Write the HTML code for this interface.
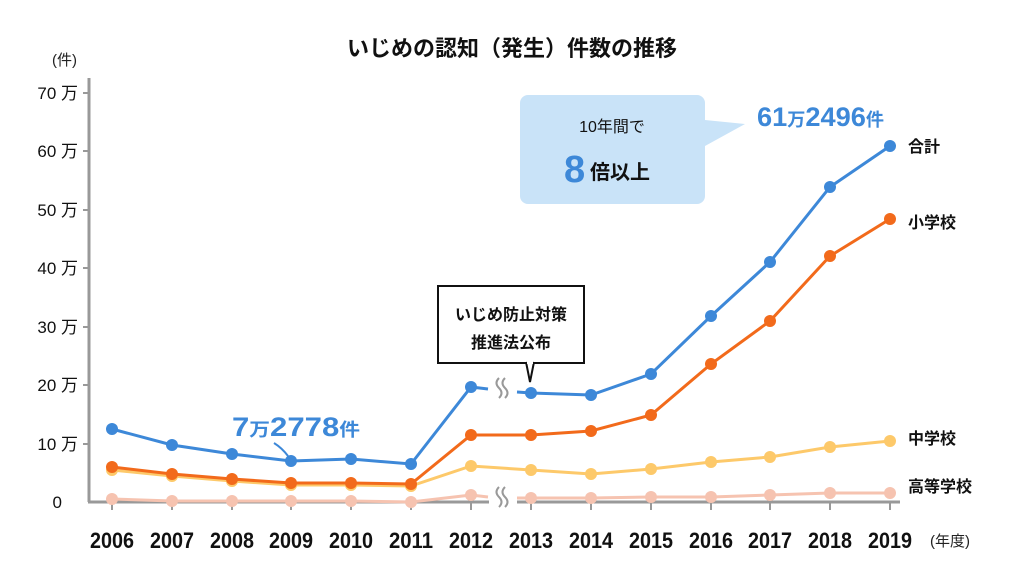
<!DOCTYPE html>
<html><head><meta charset="utf-8"><style>
body{margin:0;background:#fff}
svg{display:block;font-family:"Liberation Sans","Noto Sans CJK JP",sans-serif}
</style></head><body>
<svg width="1024" height="576" viewBox="0 0 1024 576" xmlns="http://www.w3.org/2000/svg">
<text x="512" y="56" text-anchor="middle" font-size="22" font-weight="bold" fill="#111">いじめの認知（発生）件数の推移</text>
<text x="52" y="65" font-size="15" fill="#222">(件)</text>
<g stroke="#999" stroke-width="3" fill="none">
<line x1="89" y1="78" x2="89" y2="502"/>
<line x1="88" y1="502" x2="489" y2="502"/>
<line x1="517" y1="502" x2="900" y2="502"/>
</g>
<g stroke="#999" stroke-width="2">
<line x1="83" y1="93" x2="89" y2="93"/><line x1="83" y1="151" x2="89" y2="151"/><line x1="83" y1="210" x2="89" y2="210"/><line x1="83" y1="268" x2="89" y2="268"/><line x1="83" y1="327" x2="89" y2="327"/><line x1="83" y1="385" x2="89" y2="385"/><line x1="83" y1="444" x2="89" y2="444"/>
<line x1="112" y1="502" x2="112" y2="510"/><line x1="172" y1="502" x2="172" y2="510"/><line x1="232" y1="502" x2="232" y2="510"/><line x1="291" y1="502" x2="291" y2="510"/><line x1="351" y1="502" x2="351" y2="510"/><line x1="411" y1="502" x2="411" y2="510"/><line x1="471" y1="502" x2="471" y2="510"/><line x1="531" y1="502" x2="531" y2="510"/><line x1="591" y1="502" x2="591" y2="510"/><line x1="651" y1="502" x2="651" y2="510"/><line x1="711" y1="502" x2="711" y2="510"/><line x1="770" y1="502" x2="770" y2="510"/><line x1="830" y1="502" x2="830" y2="510"/><line x1="890" y1="502" x2="890" y2="510"/>
</g>
<g font-size="17" fill="#111" text-anchor="end">
<text x="78" y="99">70 万</text><text x="78" y="157">60 万</text><text x="78" y="216">50 万</text><text x="78" y="274">40 万</text><text x="78" y="333">30 万</text><text x="78" y="391">20 万</text><text x="78" y="450">10 万</text><text x="62" y="508">0</text>
</g>
<g font-size="22" fill="#111" text-anchor="middle" font-weight="bold">
<text x="112" y="548" textLength="44" lengthAdjust="spacingAndGlyphs">2006</text><text x="172" y="548" textLength="44" lengthAdjust="spacingAndGlyphs">2007</text><text x="232" y="548" textLength="44" lengthAdjust="spacingAndGlyphs">2008</text><text x="291" y="548" textLength="44" lengthAdjust="spacingAndGlyphs">2009</text><text x="351" y="548" textLength="44" lengthAdjust="spacingAndGlyphs">2010</text><text x="411" y="548" textLength="44" lengthAdjust="spacingAndGlyphs">2011</text><text x="471" y="548" textLength="44" lengthAdjust="spacingAndGlyphs">2012</text><text x="531" y="548" textLength="44" lengthAdjust="spacingAndGlyphs">2013</text><text x="591" y="548" textLength="44" lengthAdjust="spacingAndGlyphs">2014</text><text x="651" y="548" textLength="44" lengthAdjust="spacingAndGlyphs">2015</text><text x="711" y="548" textLength="44" lengthAdjust="spacingAndGlyphs">2016</text><text x="770" y="548" textLength="44" lengthAdjust="spacingAndGlyphs">2017</text><text x="830" y="548" textLength="44" lengthAdjust="spacingAndGlyphs">2018</text><text x="890" y="548" textLength="44" lengthAdjust="spacingAndGlyphs">2019</text>
</g>
<text x="930" y="546" font-size="15" fill="#222">(年度)</text>
<g stroke="#f6c3b0" stroke-width="3" fill="none">
<polyline points="112,499 172,501 232,501 291,501 351,501 411,502 471,495 488,497"/>
<polyline points="517,498 531,498 591,498 651,497 711,497 770,495 830,493 890,493"/>
</g>
<g fill="#f6c3b0"><circle cx="112" cy="499" r="6"/><circle cx="172" cy="501" r="6"/><circle cx="232" cy="501" r="6"/><circle cx="291" cy="501" r="6"/><circle cx="351" cy="501" r="6"/><circle cx="411" cy="502" r="6"/><circle cx="471" cy="495" r="6"/><circle cx="531" cy="498" r="6"/><circle cx="591" cy="498" r="6"/><circle cx="651" cy="497" r="6"/><circle cx="711" cy="497" r="6"/><circle cx="770" cy="495" r="6"/><circle cx="830" cy="493" r="6"/><circle cx="890" cy="493" r="6"/></g>
<polyline points="112,470 172,476 232,481 291,485 351,485 411,486 471,466 531,470 591,474 651,469 711,462 770,457 830,447 890,441" stroke="#fdc96a" stroke-width="3" fill="none"/>
<g fill="#fdc96a"><circle cx="112" cy="470" r="6"/><circle cx="172" cy="476" r="6"/><circle cx="232" cy="481" r="6"/><circle cx="291" cy="485" r="6"/><circle cx="351" cy="485" r="6"/><circle cx="411" cy="486" r="6"/><circle cx="471" cy="466" r="6"/><circle cx="531" cy="470" r="6"/><circle cx="591" cy="474" r="6"/><circle cx="651" cy="469" r="6"/><circle cx="711" cy="462" r="6"/><circle cx="770" cy="457" r="6"/><circle cx="830" cy="447" r="6"/><circle cx="890" cy="441" r="6"/></g>
<polyline points="112,467 172,474 232,479 291,483 351,483 411,484 471,435 531,435 591,431 651,415 711,364 770,321 830,256 890,219" stroke="#f26a1b" stroke-width="3" fill="none"/>
<g fill="#f26a1b"><circle cx="112" cy="467" r="6"/><circle cx="172" cy="474" r="6"/><circle cx="232" cy="479" r="6"/><circle cx="291" cy="483" r="6"/><circle cx="351" cy="483" r="6"/><circle cx="411" cy="484" r="6"/><circle cx="471" cy="435" r="6"/><circle cx="531" cy="435" r="6"/><circle cx="591" cy="431" r="6"/><circle cx="651" cy="415" r="6"/><circle cx="711" cy="364" r="6"/><circle cx="770" cy="321" r="6"/><circle cx="830" cy="256" r="6"/><circle cx="890" cy="219" r="6"/></g>
<g stroke="#3d88d8" stroke-width="3" fill="none">
<polyline points="112,429 172,445 232,454 291,461 351,459 411,464 471,387 488,389"/>
<polyline points="517,392 531,393 591,395 651,374 711,316 770,262 830,187 890,146"/>
</g>
<g fill="#3d88d8"><circle cx="112" cy="429" r="6"/><circle cx="172" cy="445" r="6"/><circle cx="232" cy="454" r="6"/><circle cx="291" cy="461" r="6"/><circle cx="351" cy="459" r="6"/><circle cx="411" cy="464" r="6"/><circle cx="471" cy="387" r="6"/><circle cx="531" cy="393" r="6"/><circle cx="591" cy="395" r="6"/><circle cx="651" cy="374" r="6"/><circle cx="711" cy="316" r="6"/><circle cx="770" cy="262" r="6"/><circle cx="830" cy="187" r="6"/><circle cx="890" cy="146" r="6"/></g>
<g stroke="#999" stroke-width="2" fill="none">
<path d="M499,378 q-5,5 0,10 q5,5 0,10"/><path d="M505,378 q-5,5 0,10 q5,5 0,10"/>
<path d="M499,487 q-5,5 0,10 q5,5 0,10"/><path d="M505,487 q-5,5 0,10 q5,5 0,10"/>
</g>
<rect x="438" y="286" width="146" height="77" fill="#fff" stroke="#111" stroke-width="2"/>
<path d="M526,362 L530,382 L534,362" fill="#fff" stroke="#111" stroke-width="2"/>
<rect x="527" y="360" width="6" height="4" fill="#fff"/>
<text x="511" y="320" text-anchor="middle" font-size="16" font-weight="bold" fill="#111">いじめ防止対策</text>
<text x="511" y="348" text-anchor="middle" font-size="16" font-weight="bold" fill="#111">推進法公布</text>
<path d="M528,95 H697 a8,8 0 0 1 8,8 V120 L745,124 L705,146 V196 a8,8 0 0 1 -8,8 H528 a8,8 0 0 1 -8,-8 V103 a8,8 0 0 1 8,-8 Z" fill="#c9e3f8"/>
<text x="612" y="132" text-anchor="middle" font-size="16" fill="#111">10年間で</text>
<text x="564" y="182" font-size="38" font-weight="bold" fill="#3d88d8">8</text>
<text x="590" y="179" font-size="20" font-weight="bold" fill="#111">倍以上</text>
<text x="757" y="126" font-size="27" font-weight="bold" fill="#3d88d8" textLength="127" lengthAdjust="spacingAndGlyphs">61<tspan font-size="18">万</tspan>2496<tspan font-size="18">件</tspan></text>
<text x="232" y="436" font-size="27" font-weight="bold" fill="#3d88d8" textLength="128" lengthAdjust="spacingAndGlyphs">7<tspan font-size="18">万</tspan>2778<tspan font-size="18">件</tspan></text>
<path d="M274,443 Q282,448 288,456" stroke="#3d88d8" stroke-width="2" fill="none"/>
<g font-size="16" font-weight="bold" fill="#111">
<text x="908" y="152">合計</text>
<text x="908" y="228">小学校</text>
<text x="908" y="444">中学校</text>
<text x="908" y="492">高等学校</text>
</g>
</svg>
</body></html>
